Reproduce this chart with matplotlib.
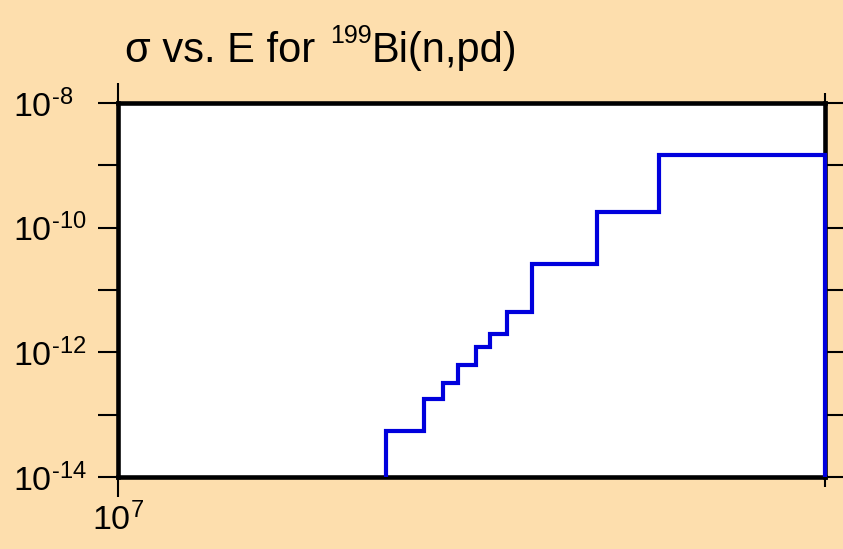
import numpy as np
import matplotlib
matplotlib.use('Agg')
import matplotlib.pyplot as plt
from matplotlib.ticker import LogLocator, NullLocator, NullFormatter, FuncFormatter

plt.rcParams['font.family'] = ['Liberation Sans', 'DejaVu Sans']
plt.rcParams['mathtext.fontset'] = 'custom'
plt.rcParams['mathtext.rm'] = 'Liberation Sans'
plt.rcParams['mathtext.it'] = 'Liberation Sans'

# ------------------------------------------------------
#  Group cross sections (energy bin edges in eV, sigma in barn)
# ------------------------------------------------------
E_edges = [1.30e7, 1.35e7, 1.375e7, 1.395e7, 1.42e7, 1.44e7,
           1.465e7, 1.50e7, 1.60e7, 1.70e7, 2.0e7]
sigma = [5.5e-14, 1.78e-13, 3.2e-13, 6.3e-13, 1.2e-12, 2.0e-12,
         4.4e-12, 2.6e-11, 1.78e-10, 1.47e-9]

E_lim = (1e7, 2e7)
sigma_lim = (1e-14, 1e-8)

# ------------------------------------------------------
#  Plot
# ------------------------------------------------------
W, H = 843, 549
fig = plt.figure(figsize=(W / 100, H / 100), dpi=100, facecolor='#fddead')
ax = fig.add_axes([118 / W, (H - 477) / H, 707 / W, 374 / H])
ax.set_facecolor('white')

ax.stairs(sigma, E_edges, baseline=sigma_lim[0], color='#0000dd',
          linewidth=3.0, zorder=3, clip_on=False)

ax.set_xscale('log')
ax.set_yscale('log')
ax.set_xlim(*E_lim)
ax.set_ylim(*sigma_lim)

for s in ax.spines.values():
    s.set_linewidth(3.3)


def pow10(e):
    # plain hyphen in the exponent instead of a minus sign
    exp = str(e).replace('-', '\u2010')
    return r'$\mathregular{10^{%s}}$' % exp


# y ticks every decade, labels on every other one
ax.yaxis.set_major_locator(LogLocator(base=10, numticks=20))
ax.yaxis.set_minor_locator(NullLocator())


def ylab(v, pos):
    e = int(round(np.log10(v)))
    if e % 2:
        return ''
    return pow10(e)


ax.yaxis.set_major_formatter(FuncFormatter(ylab))
ax.xaxis.set_major_formatter(FuncFormatter(
    lambda v, pos: pow10(int(round(np.log10(v))))))
ax.xaxis.set_minor_locator(LogLocator(base=10, subs=(2.0,), numticks=10))
ax.xaxis.set_minor_formatter(NullFormatter())

ax.tick_params(axis='both', which='major', direction='out', length=14.5,
               width=1.5, labelsize=24.5, color='black')
ax.tick_params(axis='both', which='minor', direction='out', length=7.5,
               width=1.5)
# y labels are left-aligned at the figure edge
ax.tick_params(axis='y', left=True, right=True, labelright=False, pad=61)
ax.tick_params(axis='x', which='both', bottom=True, top=True, labeltop=False, pad=4)
for t in ax.yaxis.get_major_ticks():
    t.label1.set_horizontalalignment('left')

# title in three pieces so the isotope number can be smaller
fig.text(125 / W, 1 - 62 / H, 'σ vs. E for', fontsize=30, ha='left', va='baseline')
fig.text(330 / W, 1 - 43 / H, '199', fontsize=18, ha='left', va='baseline')
fig.text(372 / W, 1 - 62 / H, 'Bi(n,pd)', fontsize=30, ha='left', va='baseline')

fig.savefig('out.png', dpi=100, facecolor=fig.get_facecolor())
